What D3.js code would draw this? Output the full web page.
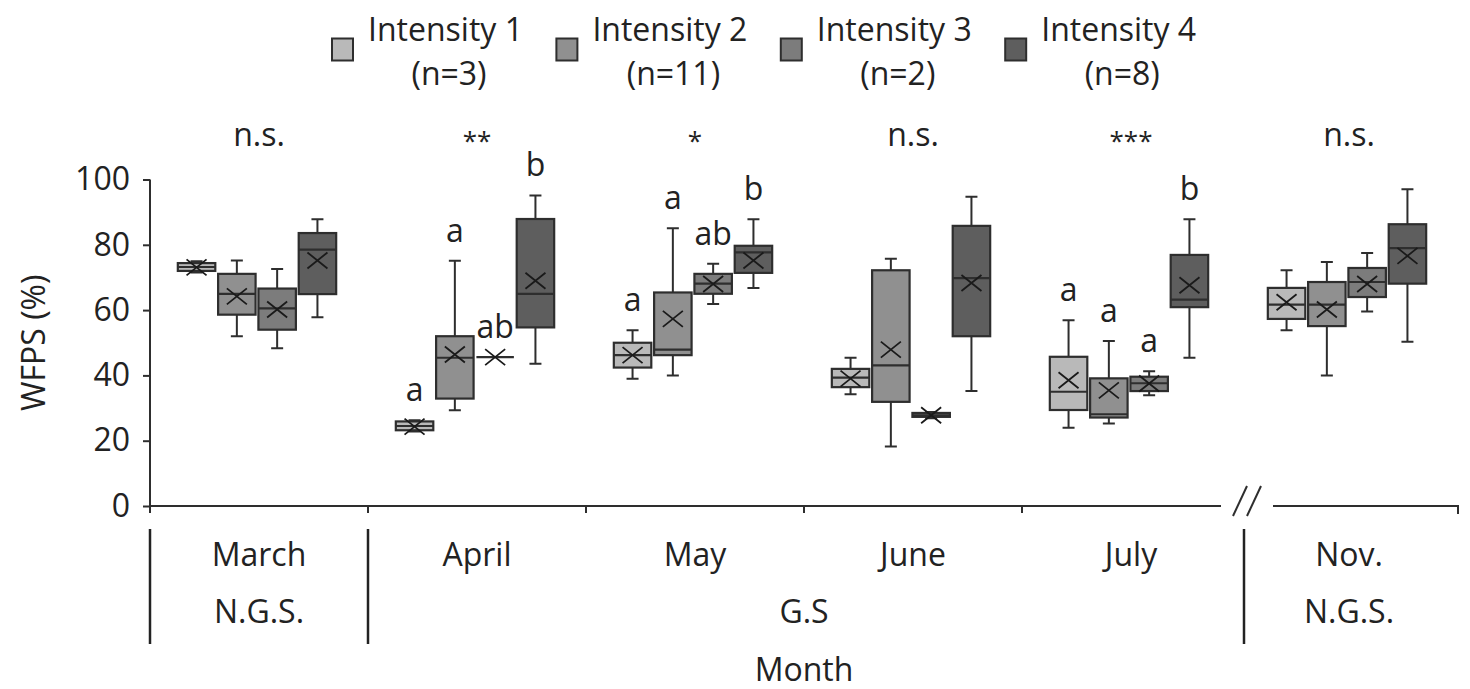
<!DOCTYPE html>
<html>
<head>
<meta charset="utf-8">
<script src="https://cdn.jsdelivr.net/npm/d3@7"></script>
<style>
  html, body { margin: 0; padding: 0; background: #fff; }
  svg { display: block; font-family: "Open Sans", "Noto Sans", sans-serif; }
</style>
</head>
<body>
<svg id="chart" width="1470" height="689"></svg>
<script>
// Data
const months = ['March', 'April', 'May', 'June', 'July', 'Nov.'];
const series = ['Intensity 1', 'Intensity 2', 'Intensity 3', 'Intensity 4'];
const sampleSizes = ['(n=3)', '(n=11)', '(n=2)', '(n=8)'];
const significance = ['n.s.', '**', '*', 'n.s.', '***', 'n.s.'];
const seasons = [
    { label: 'N.G.S.', from: 'March', to: 'March' },
    { label: 'G.S', from: 'April', to: 'July' },
    { label: 'N.G.S.', from: 'Nov.', to: 'Nov.' }
];
const yTicks = [0, 20, 40, 60, 80, 100];

// per month: [min, q1, median, q3, max, mean]
const intensity1 = [
    [71.5, 72.0, 73.2, 74.4, 75.0, 73.1],
    [22.8, 23.2, 24.5, 25.9, 26.3, 24.3],
    [39.0, 42.4, 46.2, 50.0, 53.8, 46.2],
    [34.2, 36.4, 39.3, 42.0, 45.4, 39.0],
    [24.0, 29.4, 35.0, 45.7, 56.9, 38.5],
    [53.8, 57.3, 61.7, 66.8, 72.2, 62.4]
];
const intensity2 = [
    [52.0, 58.6, 65.0, 71.1, 75.2, 64.2],
    [29.3, 32.9, 45.4, 52.0, 75.1, 46.4],
    [40.0, 46.2, 47.9, 65.4, 85.1, 57.3],
    [18.2, 31.9, 43.1, 72.2, 75.7, 47.9],
    [25.3, 27.1, 28.1, 39.1, 50.5, 35.4],
    [40.0, 55.1, 61.7, 68.6, 74.7, 60.2]
];
const intensity3 = [
    [48.3, 54.0, 60.5, 66.6, 72.6, 60.2],
    [45.6, 45.6, 45.6, 45.6, 45.6, 45.6],
    [61.9, 65.0, 68.1, 71.1, 74.2, 68.0],
    [26.9, 27.3, 27.8, 28.5, 28.8, 27.8],
    [33.9, 35.2, 37.6, 39.6, 41.3, 37.5],
    [59.6, 64.0, 68.6, 72.9, 77.5, 68.0]
];
const intensity4 = [
    [57.8, 64.9, 78.5, 83.6, 87.8, 75.2],
    [43.6, 54.7, 65.0, 87.9, 95.1, 69.0],
    [66.8, 71.4, 77.7, 79.7, 87.8, 75.2],
    [35.2, 52.0, 69.8, 85.8, 94.7, 68.3],
    [45.4, 60.9, 63.2, 76.9, 87.8, 67.6],
    [50.3, 68.1, 79.0, 86.3, 97.0, 76.6]
];
// post-hoc letters, per month, per series
const letters = [
    ['', '', '', ''],
    ['a', 'a', 'ab', 'b'],
    ['a', 'a', 'ab', 'b'],
    ['', '', '', ''],
    ['a', 'a', 'a', 'b'],
    ['', '', '', '']
];

const fills = ['#b9b9b9', '#909090', '#7c7c7c', '#5e5e5e'];
const stroke = '#2e2e2e';
const fontSize = 32;

const svg = d3.select('#chart');

// Scales
const x = d3.scaleBand().domain(months).range([150, 1458]);
const xInner = d3.scaleBand().domain(series).range([-84, 80]).padding(0.07);
const y = d3.scaleLinear().domain([0, 100]).range([506, 179.5]);
const color = d3.scaleOrdinal().domain(series).range(fills);

// Y axis
const yAxis = svg.append('g')
    .attr('transform', `translate(${x.range()[0]},0)`)
    .call(d3.axisLeft(y).tickValues(yTicks).tickSize(7).tickSizeOuter(0).tickPadding(13));
yAxis.select('.domain').remove();
yAxis.selectAll('line').attr('stroke', stroke).attr('stroke-width', 2);
yAxis.selectAll('text')
    .attr('font-size', fontSize)
    .attr('font-family', '"Open Sans", sans-serif')
    .attr('fill', '#222');
yAxis.append('line')
    .attr('x1', 0).attr('x2', 0)
    .attr('y1', y(100)).attr('y2', y(0) + 7)
    .attr('stroke', stroke).attr('stroke-width', 2);

svg.append('text')
    .attr('transform', `translate(32,${(y(0) + y(100)) / 2}) rotate(-90)`)
    .attr('text-anchor', 'middle')
    .attr('dominant-baseline', 'central')
    .attr('font-size', fontSize)
    .attr('fill', '#222')
    .text('WFPS (%)');

// X axis with break before the last month
const x0 = x.range()[0], x1 = x.range()[1];
const breakX = x('Nov.') + 7;
const xAxis = svg.append('g').attr('stroke', stroke).attr('stroke-width', 2).attr('fill', 'none');
xAxis.append('path')
    .attr('d', `M${x0},${y(0)}H${breakX - 26}M${breakX + 26},${y(0)}H${x1}V${y(0) + 8}`);
[-7, 7].forEach(dx => {
    xAxis.append('line')
        .attr('x1', breakX + dx - 7).attr('y1', y(0) + 10)
        .attr('x2', breakX + dx + 7).attr('y2', y(0) - 20);
});
months.slice(1, 5).forEach(m => {
    xAxis.append('line')
        .attr('x1', x(m)).attr('x2', x(m))
        .attr('y1', y(0)).attr('y2', y(0) + 7);
});

// Month labels
svg.append('g').selectAll('text')
    .data(months)
    .join('text')
    .attr('x', d => x(d) + x.bandwidth() / 2)
    .attr('y', 566)
    .attr('text-anchor', 'middle')
    .attr('font-size', fontSize)
    .attr('fill', '#222')
    .text(d => d);

// Season labels and separators
const seasonG = svg.append('g');
seasons.forEach(s => {
    const a = x(s.from), b = x(s.to) + x.bandwidth();
    seasonG.append('text')
        .attr('x', (a + b) / 2)
        .attr('y', 623)
        .attr('text-anchor', 'middle')
        .attr('font-size', fontSize)
        .attr('fill', '#222')
        .text(s.label);
});
[x('March'), x('April'), x('Nov.') + 4].forEach(px => {
    seasonG.append('line')
        .attr('x1', px).attr('x2', px)
        .attr('y1', 529).attr('y2', 644)
        .attr('stroke', '#222').attr('stroke-width', 2.5);
});

svg.append('text')
    .attr('x', (x0 + x1) / 2)
    .attr('y', 681)
    .attr('text-anchor', 'middle')
    .attr('font-size', fontSize)
    .attr('fill', '#222')
    .text('Month');

// Significance labels (asterisks set a little smaller, as in the figure)
svg.append('g').selectAll('text')
    .data(significance)
    .join('text')
    .attr('x', (d, i) => x(months[i]) + x.bandwidth() / 2)
    .attr('y', d => d.startsWith('*') ? 150 : 146)
    .attr('text-anchor', 'middle')
    .attr('font-size', d => d.startsWith('*') ? 26 : fontSize)
    .attr('fill', '#222')
    .text(d => d);

// Box plots
const allSeries = [intensity1, intensity2, intensity3, intensity4];
const boxes = [];
months.forEach((m, mi) => {
    series.forEach((s, si) => {
        const v = allSeries[si][mi];
        boxes.push({
            month: m, series: s, letter: letters[mi][si],
            min: v[0], q1: v[1], median: v[2], q3: v[3], max: v[4], mean: v[5]
        });
    });
});

const bw = xInner.bandwidth();
const boxG = svg.append('g').selectAll('g')
    .data(boxes)
    .join('g')
    .attr('transform', d => `translate(${x(d.month) + x.bandwidth() / 2 + xInner(d.series) + bw / 2},0)`);

// whiskers
boxG.append('path')
    .attr('d', d => `M0,${y(d.q3)}V${y(d.max)}M-6,${y(d.max)}H6M0,${y(d.q1)}V${y(d.min)}M-6,${y(d.min)}H6`)
    .attr('stroke', stroke).attr('stroke-width', 2).attr('fill', 'none');
// box
boxG.append('rect')
    .attr('x', -bw / 2)
    .attr('width', bw)
    .attr('y', d => y(d.q3))
    .attr('height', d => Math.max(0, y(d.q1) - y(d.q3)))
    .attr('fill', d => color(d.series))
    .attr('stroke', stroke)
    .attr('stroke-width', 2.2);
// median
boxG.append('line')
    .attr('x1', -bw / 2).attr('x2', bw / 2)
    .attr('y1', d => y(d.median)).attr('y2', d => y(d.median))
    .attr('stroke', stroke).attr('stroke-width', 2.2);
// mean marker
boxG.append('path')
    .attr('d', d => {
        const cy = y(d.mean);
        return `M-10,${cy - 8}L10,${cy + 8}M-10,${cy + 8}L10,${cy - 8}`;
    })
    .attr('stroke', '#1a1a1a').attr('stroke-width', 1.8).attr('fill', 'none');
// letters
boxG.filter(d => d.letter)
    .append('text')
    .attr('x', 0)
    .attr('y', d => y(d.max) - 19)
    .attr('text-anchor', 'middle')
    .attr('font-size', fontSize)
    .attr('fill', '#222')
    .text(d => d.letter);

// Legend
const legend = svg.append('g').selectAll('g')
    .data(series)
    .join('g')
    .attr('transform', (d, i) => `translate(${332 + i * 224.4},0)`);
legend.append('rect')
    .attr('x', 0).attr('y', 38.5)
    .attr('width', 21).attr('height', 22)
    .attr('fill', d => color(d))
    .attr('stroke', stroke).attr('stroke-width', 2);
legend.append('text')
    .attr('x', 36).attr('y', 41)
    .attr('font-size', fontSize)
    .attr('fill', '#222')
    .text(d => d);
legend.append('text')
    .attr('x', 36 + 81).attr('y', 85)
    .attr('text-anchor', 'middle')
    .attr('font-size', fontSize)
    .attr('fill', '#222')
    .text((d, i) => sampleSizes[i]);
</script>
</body>
</html>
